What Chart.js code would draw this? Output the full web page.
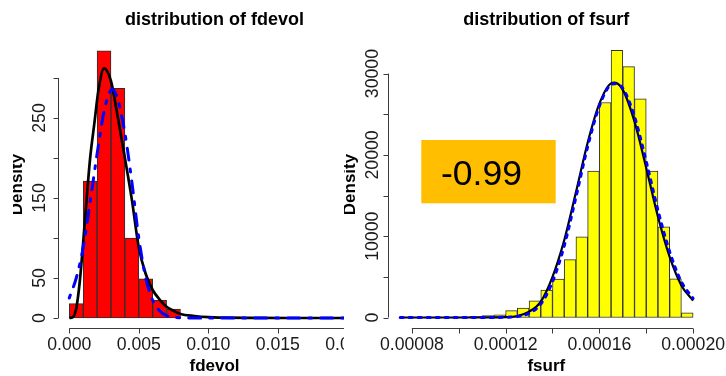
<!DOCTYPE html>
<html>
<head>
<meta charset="utf-8">
<script src="https://cdn.jsdelivr.net/npm/chart.js@4.4.1/dist/chart.umd.min.js"></script>
<style>
  body { margin: 0; background: #ffffff; }
  #wrap { position: relative; width: 726px; height: 376px; overflow: hidden; }
  #c1 { position: absolute; left: 0; top: 0; }
  #c2 { position: absolute; left: 344px; top: 0; }
</style>
</head>
<body>
<div id="wrap">
  <canvas id="c1" width="344" height="376" style="width:344px;height:376px"></canvas>
  <canvas id="c2" width="382" height="376" style="width:382px;height:376px"></canvas>
</div>
<script>
// ---- fdevol panel ----
const fdevolBinWidth = 0.001;
const fdevolBinStart = [0, 0.001, 0.002, 0.003, 0.004, 0.005, 0.006, 0.007];
const fdevolDensity = [18, 171, 334, 287, 100, 49, 22, 11];

// solid black fit
const fdevolFitX = [0, 0.00025, 0.0005, 0.00075, 0.001, 0.0013, 0.0015, 0.0018, 0.0021, 0.0025, 0.003, 0.0034, 0.004, 0.0045, 0.005, 0.0055, 0.006, 0.0065, 0.007, 0.0075, 0.008, 0.009, 0.010, 0.011, 0.013, 0.016, 0.021];
const fdevolFitA = [0, 1, 12, 45, 95, 160, 200, 243, 285, 312, 296, 260, 200, 148, 88, 55, 35, 23, 14, 9, 5, 2.5, 1, 0.5, 0.1, 0, 0];
// blue dot-dash fit
const fdevolFitBX = [0, 0.0005, 0.001, 0.0015, 0.002, 0.0025, 0.0031, 0.0035, 0.004, 0.0045, 0.005, 0.0055, 0.006, 0.0065, 0.007, 0.008, 0.009, 0.021];
const fdevolFitB = [25, 50, 88, 145, 205, 258, 286, 272, 231, 170, 100, 50, 22, 9, 3, 0.3, 0, 0];

const fdevolXTicks = [0, 0.005, 0.010, 0.015, 0.020];
const fdevolXLabels = ["0.000", "0.005", "0.010", "0.015", "0.020"];
const fdevolYTicks = [0, 50, 100, 150, 200, 250, 300];
const fdevolYLabels = ["0", "50", "", "150", "", "250", ""];

// ---- fsurf panel ----
const fsurfBinWidth = 0.000005;
const fsurfBinStart = [0.000100, 0.000105, 0.000110, 0.000115, 0.000120, 0.000125, 0.000130, 0.000135, 0.000140, 0.000145,
                       0.000150, 0.000155, 0.000160, 0.000165, 0.000170, 0.000175, 0.000180, 0.000185, 0.000190, 0.000195];
const fsurfDensity = [40, 150, 230, 330, 850, 1150, 2050, 3380, 4730, 7120,
                      9930, 18000, 26450, 32850, 30850, 26900, 18000, 11150, 4770, 580];

const fsurfFitX = [0.000075, 0.00009, 0.0001, 0.00011, 0.000115, 0.00012, 0.000125, 0.00013, 0.000135, 0.00014, 0.000145, 0.00015,
                   0.000155, 0.00016, 0.000165, 0.0001665, 0.00017, 0.000175, 0.00018, 0.000185, 0.00019, 0.000195, 0.0002];
const fsurfFitA = [0, 0, 2, 10, 20, 45, 190, 720, 1950, 5000, 9500, 15400,
                   21500, 26300, 28800, 28880, 28000, 24100, 18400, 12400, 7450, 3950, 2070];
const fsurfFitB = [0, 0, 0, 5, 12, 30, 120, 520, 1650, 4400, 8800, 14800,
                   21000, 26000, 28650, 28750, 28200, 24700, 19200, 13200, 8100, 4400, 2350];

const fsurfXTicks = [0.00008, 0.00010, 0.00012, 0.00014, 0.00016, 0.00018, 0.00020];
const fsurfXLabels = ["0.00008", "", "0.00012", "", "0.00016", "", "0.00020"];
const fsurfYTicks = [0, 5000, 10000, 15000, 20000, 25000, 30000];
const fsurfYLabels = ["0", "", "10000", "", "20000", "", "30000"];

const fsurfNote = "-0.99";

const FONT = "'Liberation Sans', Arial, Helvetica, sans-serif";

function rStyle(p) {
  return {
    id: 'rStyle',
    afterDraw(chart) {
      const ctx = chart.ctx;
      const xs = chart.scales.x, ys = chart.scales.y;
      const area = chart.chartArea;
      ctx.save();
      ctx.strokeStyle = '#3a3a3a';
      ctx.lineWidth = 1;
      ctx.fillStyle = '#1a1a1a';

      // x axis
      const yLine = Math.round(area.bottom) + 0.5;
      const x0 = xs.getPixelForValue(p.xTicks[0]);
      const x1 = xs.getPixelForValue(p.xTicks[p.xTicks.length - 1]);
      ctx.beginPath();
      ctx.moveTo(x0, yLine); ctx.lineTo(x1, yLine);
      p.xTicks.forEach(v => {
        const px = Math.round(xs.getPixelForValue(v)) + 0.5;
        ctx.moveTo(px, yLine); ctx.lineTo(px, yLine + 5);
      });
      // y axis
      const xLine = Math.round(area.left) + 0.5;
      const y0 = ys.getPixelForValue(p.yTicks[0]);
      const y1 = ys.getPixelForValue(p.yTicks[p.yTicks.length - 1]);
      ctx.moveTo(xLine, y0); ctx.lineTo(xLine, y1);
      p.yTicks.forEach(v => {
        const py = Math.round(ys.getPixelForValue(v)) + 0.5;
        ctx.moveTo(xLine, py); ctx.lineTo(xLine - 5, py);
      });
      ctx.stroke();

      // tick labels
      ctx.font = '17.7px ' + FONT;
      ctx.textAlign = 'center';
      ctx.textBaseline = 'alphabetic';
      p.xTicks.forEach((v, i) => {
        if (p.xLabels[i]) ctx.fillText(p.xLabels[i], xs.getPixelForValue(v), 350);
      });
      p.yTicks.forEach((v, i) => {
        if (!p.yLabels[i]) return;
        ctx.save();
        ctx.translate(p.yLabelBase, ys.getPixelForValue(v));
        ctx.rotate(-Math.PI / 2);
        ctx.fillText(p.yLabels[i], 0, 0);
        ctx.restore();
      });

      // titles
      ctx.fillStyle = '#000000';
      ctx.font = 'bold 18px ' + FONT;
      ctx.fillText(p.title, p.titleX, 25);
      ctx.font = 'bold 17px ' + FONT;
      ctx.fillText(p.xTitle, p.titleX, 370.5);

      ctx.save();
      ctx.beginPath();
      ctx.rect(p.clipLeft, 0, chart.width, chart.height);
      ctx.clip();
      ctx.translate(p.yTitleBase, 184.5);
      ctx.rotate(-Math.PI / 2);
      ctx.fillText('Density', 0, 0);
      ctx.restore();

      if (p.note) {
        ctx.fillStyle = '#ffbf00';
        ctx.fillRect(p.note.x, p.note.y, p.note.w, p.note.h);
        ctx.fillStyle = '#000000';
        ctx.textAlign = 'left';
        ctx.font = '35.5px ' + FONT;
        ctx.fillText(p.note.text, p.note.tx, p.note.ty);
      }
      ctx.restore();
    }
  };
}

function makePanel(id, p) {
  return new Chart(document.getElementById(id), {
    type: 'bar',
    data: {
      datasets: [
        {
          type: 'bar',
          data: p.bins.map((b, i) => ({ x: b + p.binWidth / 2, y: p.density[i] })),
          backgroundColor: p.fill,
          borderColor: '#2e2e2e',
          borderWidth: 1,
          borderSkipped: false,
          barPercentage: 1,
          categoryPercentage: 1,
          order: 3,
        },
        {
          type: 'line',
          data: p.fitX.map((x, i) => ({ x: x, y: p.fitA[i] })),
          borderColor: '#000000',
          borderWidth: p.lwA,
          pointRadius: 0,
          cubicInterpolationMode: 'monotone',
          order: 2,
        },
        {
          type: 'line',
          data: p.fitBX.map((x, i) => ({ x: x, y: p.fitB[i] })),
          borderColor: '#0000ff',
          borderWidth: 3,
          borderDash: p.dash,
          borderCapStyle: 'round',
          pointRadius: 0,
          cubicInterpolationMode: 'monotone',
          order: 1,
        },
      ],
    },
    options: {
      responsive: false,
      animation: false,
      events: [],
      layout: { padding: p.pad },
      plugins: {
        legend: { display: false },
        tooltip: { enabled: false },
      },
      scales: {
        x: {
          type: 'linear',
          display: false,
          offset: false,
          min: p.xMin,
          max: p.xMax,
          afterBuildTicks: (s) => { s.ticks = p.xTicks.map((v) => ({ value: v })); },
        },
        y: {
          type: 'linear',
          display: false,
          min: p.yMin,
          max: p.yMax,
          afterBuildTicks: (s) => { s.ticks = p.yTicks.map((v) => ({ value: v })); },
        },
      },
    },
    plugins: [rStyle(p)],
  });
}

makePanel('c1', {
  bins: fdevolBinStart, binWidth: fdevolBinWidth, density: fdevolDensity,
  fitX: fdevolFitX, fitA: fdevolFitA, fitBX: fdevolFitBX, fitB: fdevolFitB,
  fill: '#ff0000', lwA: 2.7, dash: [3, 9, 12, 9],
  pad: { left: 58, right: 0, top: 41, bottom: 48 },
  xMin: -0.000813, xMax: 0.019763, yMin: -12.5, yMax: 346.25,
  xTicks: fdevolXTicks, xLabels: fdevolXLabels, yTicks: fdevolYTicks, yLabels: fdevolYLabels,
  yLabelBase: 45, yTitleBase: 21.5, clipLeft: 13, titleX: 214.5,
  title: 'distribution of fdevol', xTitle: 'fdevol',
});

makePanel('c2', {
  bins: fsurfBinStart, binWidth: fsurfBinWidth, density: fsurfDensity,
  fitX: fsurfFitX, fitA: fsurfFitA, fitBX: fsurfFitX, fitB: fsurfFitB,
  fill: '#ffff00', lwA: 2.2, dash: [3, 6],
  pad: { left: 44, right: 9, top: 41, bottom: 48 },
  xMin: 0.0000698, xMax: 0.0002102, yMin: -1290, yMax: 34010,
  xTicks: fsurfXTicks, xLabels: fsurfXLabels, yTicks: fsurfYTicks, yLabels: fsurfYLabels,
  yLabelBase: 34, yTitleBase: 10.7, clipLeft: 0, titleX: 202.3,
  title: 'distribution of fsurf', xTitle: 'fsurf',
  note: { x: 77.3, y: 140, w: 134.4, h: 63.3, text: fsurfNote, tx: 97, ty: 185 },
});
</script>
</body>
</html>
